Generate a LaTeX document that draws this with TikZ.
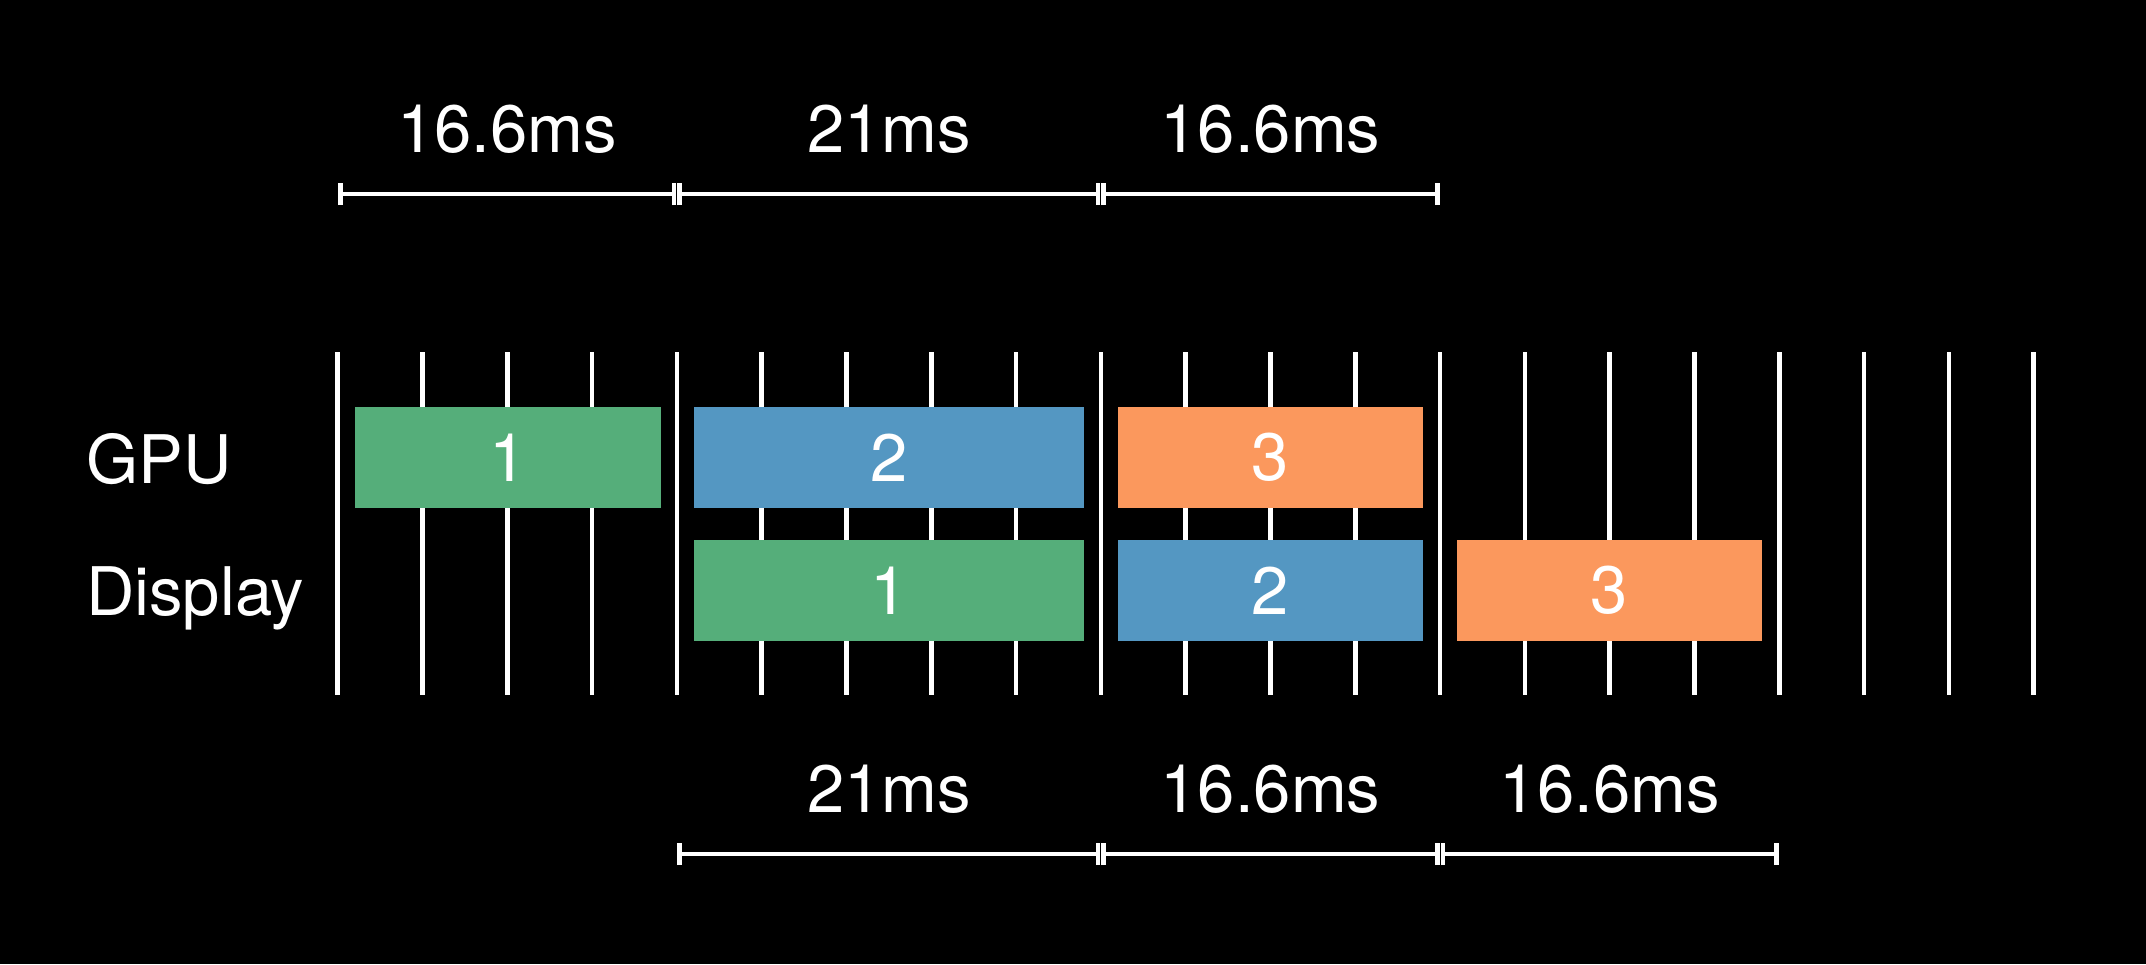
\documentclass[tikz,border=0pt]{standalone}
\usepackage{fontspec}
\setmainfont{TeX Gyre Heros}
\definecolor{fgreen}{RGB}{85,174,122}
\definecolor{fblue}{RGB}{84,151,194}
\definecolor{forange}{RGB}{251,152,93}
\newcommand{\spanbar}[2]{%
  \draw[barline] (#1) -- (#2);
  \draw[barline] ([yshift=-11pt]#1) -- ([yshift=11pt]#1);
  \draw[barline] ([yshift=-11pt]#2) -- ([yshift=11pt]#2);
}
\begin{document}
\begin{tikzpicture}[x=1pt,y=-1pt,
  gridline/.style={white,line width=4.5pt},
  barline/.style={white,line width=4.5pt},
  frame/.style={draw=none,inner sep=0pt,minimum height=101pt,text=white,
    font=\fontsize{67}{80}\selectfont},
  lbl/.style={text=white,inner sep=0pt,anchor=base,font=\fontsize{67}{80}\selectfont},
  rowlbl/.style={text=white,inner sep=0pt,anchor=base west,font=\fontsize{67}{80}\selectfont}]
\useasboundingbox (0,0) rectangle (2146,964);
\fill[black] (0,0) rectangle (2146,964);
% grid lines
\foreach \k in {0,...,20}{
  \coordinate (t\k) at ({337.7+84.8*\k},352);
  \coordinate (b\k) at ({337.7+84.8*\k},695);
  \draw[gridline] (t\k) -- (b\k);
}
% GPU row
\node[frame,fill=fgreen,minimum width=306pt] (g1) at (508,457.5) {1};
\node[frame,fill=fblue,minimum width=390pt] (g2) at (889,457.5) {2};
\node[frame,fill=forange,minimum width=305pt] (g3) at (1270.5,457.5) {3};
% Display row
\node[frame,fill=fgreen,minimum width=390pt] (d1) at (889,590.5) {1};
\node[frame,fill=fblue,minimum width=305pt] (d2) at (1270.5,590.5) {2};
\node[frame,fill=forange,minimum width=305pt] (d3) at (1609.5,590.5) {3};
% row labels
\node[rowlbl] (lgpu) at (86,483) {GPU};
\node[rowlbl] (ldisp) at (86,615) {Display};
% top spans
\coordinate (m1a) at (340.5,194); \coordinate (m1b) at (674.1,194);
\coordinate (m2a) at (679.7,194); \coordinate (m2b) at (1098.1,194);
\coordinate (m3a) at (1103.7,194); \coordinate (m3b) at (1437.3,194);
\spanbar{m1a}{m1b}
\spanbar{m2a}{m2b}
\spanbar{m3a}{m3b}
\node[lbl] (tl1) at (507.3,152) {16.6ms};
\node[lbl] (tl2) at (888.9,152) {21ms};
\node[lbl] (tl3) at (1270.5,152) {16.6ms};
% bottom spans
\coordinate (n1a) at (679.7,854); \coordinate (n1b) at (1098.1,854);
\coordinate (n2a) at (1103.7,854); \coordinate (n2b) at (1437.3,854);
\coordinate (n3a) at (1442.9,854); \coordinate (n3b) at (1776.5,854);
\spanbar{n1a}{n1b}
\spanbar{n2a}{n2b}
\spanbar{n3a}{n3b}
\node[lbl] (bl1) at (888.9,812) {21ms};
\node[lbl] (bl2) at (1270.5,812) {16.6ms};
\node[lbl] (bl3) at (1609.7,812) {16.6ms};
\end{tikzpicture}
\end{document}
